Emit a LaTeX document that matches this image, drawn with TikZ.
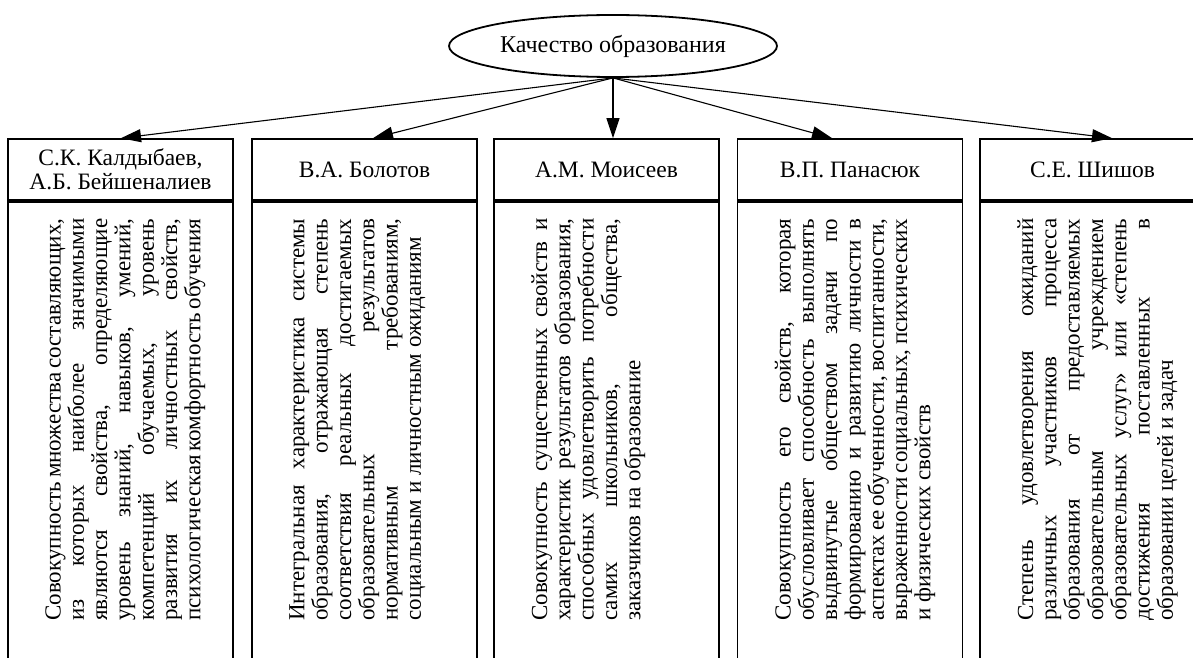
\documentclass[tikz,border=0pt]{standalone}
\usepackage{fontspec}
\setmainfont{Liberation Serif}
\usetikzlibrary{shapes.geometric,arrows.meta}

\newcommand{\deffont}{\fontsize{23}{23.3}\selectfont\spaceskip=0.25em plus 1em minus 0.16em\relax\hyphenpenalty=10000\relax}

\tikzset{
  headbox/.style={shape=rectangle, draw=black, line width=1.7pt, minimum width=225pt, minimum height=61pt, align=center, inner sep=0pt, font=\fontsize{23.5}{24}\selectfont},
  bodybox/.style={shape=rectangle, draw=black, line width=1.7pt, minimum width=225pt, minimum height=480pt, anchor=north},
  deftext/.style={rotate=90, anchor=north west, text width=402pt, align=justify, inner sep=0pt, font=\deffont},
  link/.style={-{Triangle[length=20pt,width=13pt]}, line width=1.1pt}
}

\begin{document}
\begin{tikzpicture}[x=1pt, y=1pt]
    \useasboundingbox (0,0) rectangle (1193,657);
    \clip (0,0) rectangle (1193,657);
    \node[shape=ellipse, draw=black, line width=1.8pt, minimum width=328pt, minimum height=62pt, inner sep=0pt, font=\fontsize{24}{24}\selectfont] at (613,611) (q) {Качество образования};
    \node[headbox] at (120.5,487.5) (h1) {С.К. Калдыбаев,\\А.Б. Бейшеналиев};
    \node[headbox] at (364.5,487.5) (h2) {В.А. Болотов};
    \node[headbox] at (606.5,487.5) (h3) {А.М. Моисеев};
    \node[headbox] at (850,487.5) (h4) {В.П. Панасюк};
    \node[headbox] at (1092.5,487.5) (h5) {С.Е. Шишов};
    \node[bodybox] at (h1.south) (b1) {};
    \node[bodybox] at (h2.south) (b2) {};
    \node[bodybox] at (h3.south) (b3) {};
    \node[bodybox] at (h4.south) (b4) {};
    \node[bodybox] at (h5.south) (b5) {};
    \path [link] (q.south) edge ([xshift=0.5pt]h1.north);
    \path [link] (q.south) edge ([xshift=8.5pt]h2.north);
    \path [link] (q.south) edge ([xshift=6.5pt]h3.north);
    \path [link] (q.south) edge ([xshift=-18pt]h4.north);
    \path [link] (q.south) edge ([xshift=19.5pt]h5.north);
    \node[deftext] at ([shift={(38,-420)}]h1.south west) (t1) {Совокупность множества составляющих,\linebreak
      из которых наиболее значимыми\linebreak
      являются свойства, определяющие\linebreak
      уровень знаний, навыков, умений,\linebreak
      компетенций обучаемых, уровень\linebreak
      развития их личностных свойств,\linebreak
      психологическая комфортность обучения};
    \node[deftext] at ([shift={(38,-420)}]h2.south west) (t2) {Интегральная характеристика системы\linebreak
      образования, отражающая степень\linebreak
      соответствия реальных достигаемых\linebreak
      образовательных результатов\linebreak
      нормативным требованиям,\linebreak
      социальным и личностным ожиданиям};
    \node[deftext] at ([shift={(38,-420)}]h3.south west) (t3) {Совокупность существенных свойств и\linebreak
      характеристик результатов образования,\linebreak
      способных удовлетворить потребности\linebreak
      самих школьников, общества,\linebreak
      заказчиков на образование};
    \node[deftext] at ([shift={(38,-420)}]h4.south west) (t4) {Совокупность его свойств, которая\linebreak
      обусловливает способность выполнять\linebreak
      выдвинутые обществом задачи по\linebreak
      формированию и развитию личности в\linebreak
      аспектах ее обученности, воспитанности,\linebreak
      выраженности социальных, психических\linebreak
      и физических свойств};
    \node[deftext] at ([shift={(38,-420)}]h5.south west) (t5) {Степень удовлетворения ожиданий\linebreak
      различных участников процесса\linebreak
      образования от предоставляемых\linebreak
      образовательным учреждением\linebreak
      образовательных услуг» или «степень\linebreak
      достижения поставленных в\linebreak
      образовании целей и задач};
\end{tikzpicture}
\end{document}
